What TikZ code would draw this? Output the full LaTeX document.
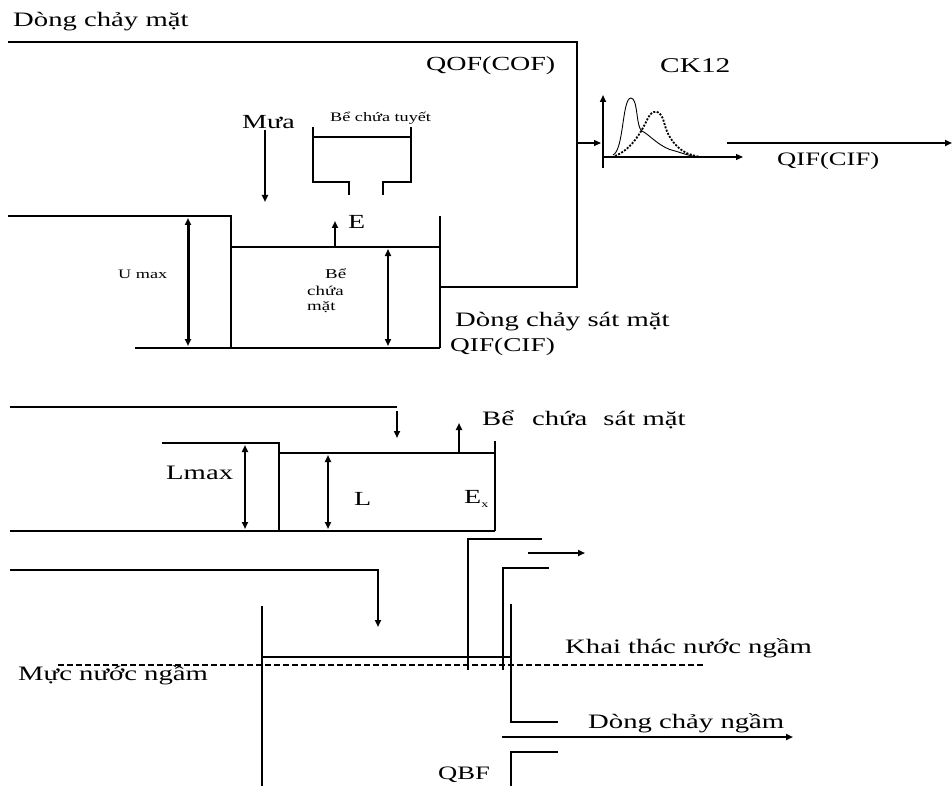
\documentclass[tikz,border=0pt]{standalone}
\usepackage{fontspec}
\setmainfont{Liberation Serif}[FakeStretch=1.4]
\usetikzlibrary{arrows.meta}
\begin{document}
\begin{tikzpicture}[x=1pt,y=-1pt,
  ln/.style={line width=1.1pt},
  arr/.style={-{Triangle[length=7pt,width=6pt]}},
  darr/.style={{Triangle[length=7pt,width=6pt]}-{Triangle[length=7pt,width=6pt]}},
  lab/.style={inner sep=0pt,anchor=west,font=\fontsize{20.5}{22}\selectfont},
  slab/.style={inner sep=0pt,anchor=west,font=\fontsize{13}{14}\selectfont},
  dash line/.style={line width=1.8pt,dash pattern=on 6pt off 3pt}
]
\useasboundingbox (0,0) rectangle (952,786);

% ---------- texts ----------
\node[lab] (t1) at (13,22) {Dòng chảy mặt};
\node[lab,font=\fontsize{20}{22}\selectfont] (qof) at (426,66) {QOF(COF)};
\node[lab,font=\fontsize{21}{22}\selectfont] (ck) at (660,66) {CK12};
\node[lab,font=\fontsize{19}{22}\selectfont] (qif1) at (777,161) {QIF(CIF)};
\node[lab,font=\fontsize{20}{22}\selectfont] (mua) at (242,122) {Mưa};
\node[slab] (tuyet) at (330,118) {Bể chứa tuyết};
\node[lab,font=\fontsize{20}{22}\selectfont] (e1) at (348,222) {E};
\node[slab] (umax) at (118,274) {U max};
\node[slab,font=\fontsize{13.5}{14}\selectfont] (bm1) at (325,274) {Bể};
\node[slab,font=\fontsize{13.5}{14}\selectfont] (bm2) at (307,291) {chứa};
\node[slab,font=\fontsize{13.5}{14}\selectfont] (bm3) at (307,307) {mặt};
\node[lab] (dcsm) at (455,322) {Dòng chảy sát mặt};
\node[lab,font=\fontsize{19.5}{22}\selectfont] (qif2) at (450,347) {QIF(CIF)};
\node[lab] (bcsm) at (482,420) {Bể\hspace{18pt}chứa\hspace{16pt}sát mặt};
\node[lab] (lmax) at (166,473) {Lmax};
\node[lab,font=\fontsize{20}{22}\selectfont] (l) at (354,499) {L};
\node[lab,font=\fontsize{20}{22}\selectfont] (ex) at (464,499) {E\raisebox{-4pt}{\fontsize{10}{10}\selectfont x}};
\node[lab] (mnn) at (18,675) {Mực nước ngầm};
\node[lab] (ktnn) at (565,648) {Khai thác nước ngầm};
\node[lab] (dcn) at (588,723) {Dòng chảy ngầm};
\node[lab,font=\fontsize{19}{22}\selectfont] (qbf) at (438,775) {QBF};

% ---------- section 1 : surface ----------
\draw[ln] (8,42) -- (577,42) -- (577,287) -- (440,287);
\draw[ln] (8,216) -- (231,216) -- (231,348);
\draw[ln] (231,247) -- (440,247);
\draw[ln] (440,216) -- (440,348);
\draw[ln] (135,348) -- (440,348);
\draw[line width=3pt,darr] (188,218) -- (188,346);
\draw[line width=1.6pt,darr] (388,249) -- (388,346);
\draw[line width=2pt,arr] (335,247) -- (335,221);
\draw[line width=2.5pt,arr] (265,130) -- (265,202);
% snow tank
\draw[ln] (349,195) -- (349,182) -- (313,182) -- (313,127);
\draw[ln] (383,195) -- (383,182) -- (411,182) -- (411,127);
\draw[ln] (313,137) -- (411,137);
% CK12 routing
\coordinate (in1) at (577,143);
\coordinate (ax0) at (603,157);
\draw[ln,arr] (in1) -- (601,143);
\draw[line width=1.6pt,arr] (603,168) -- (603,95);
\draw[ln,arr] (ax0) -- (743,157);
\draw[line width=0.9pt] (613,155) .. controls (624,150) and (622,98) .. (631,98)
  .. controls (638,98) and (636,128) .. (642,131)
  .. controls (650,135) and (660,148) .. (675,151)
  .. controls (685,154) and (690,156) .. (698,157);
\draw[line width=1.8pt,dash pattern=on 2pt off 1.5pt] (615,156) .. controls (630,150) and (640,135) .. (648,118)
  .. controls (652,110) and (660,108) .. (664,122)
  .. controls (668,140) and (680,152) .. (692,155) -- (700,157);
\draw[line width=2pt,arr] (727,143) -- (952,143);

% ---------- section 2 : subsurface ----------
\draw[ln] (10,407) -- (397,407);
\draw[line width=1.6pt,arr] (397,411) -- (397,438);
\draw[line width=2pt,arr] (459,453) -- (459,423);
\draw[ln] (162,443) -- (279,443) -- (279,531);
\draw[ln] (279,453) -- (495,453);
\draw[ln] (495,441) -- (495,531);
\draw[ln] (10,531) -- (495,531);
\draw[line width=2.5pt,darr] (245,445) -- (245,529);
\draw[line width=2pt,darr] (328,455) -- (328,529);

% ---------- section 3 : groundwater ----------
\draw[ln] (10,570) -- (378,570);
\draw[line width=2pt,arr] (378,569) -- (378,627);
\draw[ln] (262,606) -- (262,786);
\draw[ln] (262,657) -- (511,657);
\draw[dash line] (58,665) -- (705,665);
\draw[ln] (468,670) -- (468,539) -- (542,539);
\draw[line width=2.5pt,arr] (528,553) -- (585,553);
\draw[ln] (503,670) -- (503,568) -- (549,568);
\draw[ln] (511,604) -- (511,722) -- (558,722);
\draw[line width=2pt,arr] (502,737) -- (793,737);
\draw[ln] (511,786) -- (511,752) -- (558,752);
\end{tikzpicture}
\end{document}
